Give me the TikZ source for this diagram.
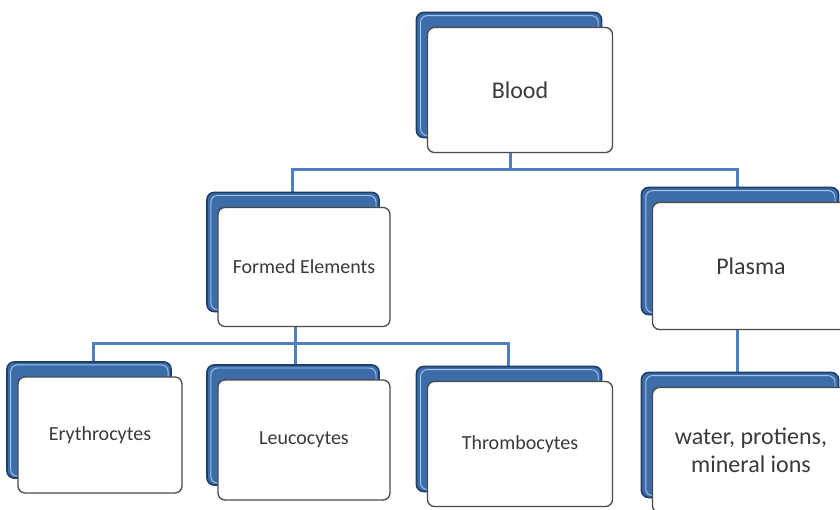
\documentclass[tikz,border=0pt]{standalone}
\usepackage{fontspec}
\setmainfont{Carlito}
\usetikzlibrary{shadows,backgrounds}
\definecolor{cardblue}{HTML}{3D6DA9}
\definecolor{cardedge}{HTML}{1F3E69}
\definecolor{cardhi}{HTML}{A3C2E8}
\definecolor{linkblue}{HTML}{4F7FBC}
\definecolor{txt}{HTML}{3A3A3A}
\definecolor{frame}{HTML}{4A4A4A}
\tikzset{
  card/.style={rectangle, rounded corners=7pt, fill=white, draw=frame, line width=1.3pt,
    align=center, text=txt, font=\fontsize{20}{24}\selectfont, inner sep=2pt,
    general shadow={shadow xshift=-11pt, shadow yshift=15pt, fill=cardblue, draw=cardedge, line width=1.6pt},
    general shadow={shadow xshift=-11pt, shadow yshift=15pt, shadow scale=0.96, fill=none, draw=cardhi, line width=1pt}},
  bigtext/.style={font=\fontsize{24}{28}\selectfont},
  link/.style={draw=linkblue, line width=3pt}
}
\begin{document}
\begin{tikzpicture}[x=1pt,y=-1pt]
\useasboundingbox (0,0) rectangle (840,509);
\clip (0,0) rectangle (840,509);
\node[card, bigtext, minimum width=185pt, minimum height=125pt] (blood) at (520,90) {Blood};
\node[card, minimum width=172pt, minimum height=119pt] (formed) at (304,267) {Formed Elements};
\node[card, bigtext, minimum width=197pt, minimum height=127pt] (plasma) at (751,266) {Plasma};
\node[card, minimum width=164pt, minimum height=116pt] (ery) at (100,435) {Erythrocytes};
\node[card, minimum width=172pt, minimum height=120pt] (leuco) at (304,440) {Leucocytes};
\node[card, minimum width=185pt, minimum height=125pt] (throm) at (520,444) {Thrombocytes};
\node[card, bigtext, minimum width=197pt, minimum height=125pt] (water) at (751,450) {water, protiens,\\ mineral ions};
\begin{scope}[on background layer]
\fill[white] (0,0) rectangle (840,509);
\draw[link] ([xshift=-10pt]blood.south) -- ++(0,16) -| ([xshift=-12pt]formed.north);
\draw[link] ([xshift=-10pt]blood.south) -- ++(0,16) -| ([xshift=-14pt]plasma.north);
\draw[link] ([xshift=-9pt]formed.south) -- ++(0,16) -| ([xshift=-7pt]ery.north);
\draw[link] ([xshift=-9pt]formed.south) -- ++(0,16) -| ([xshift=-12pt]throm.north);
\draw[link] ([xshift=-9pt]formed.south) -- ([xshift=-9pt]leuco.north);
\draw[link] ([xshift=-14pt]plasma.south) -- ([xshift=-14pt]water.north);
\end{scope}
\end{tikzpicture}
\end{document}
